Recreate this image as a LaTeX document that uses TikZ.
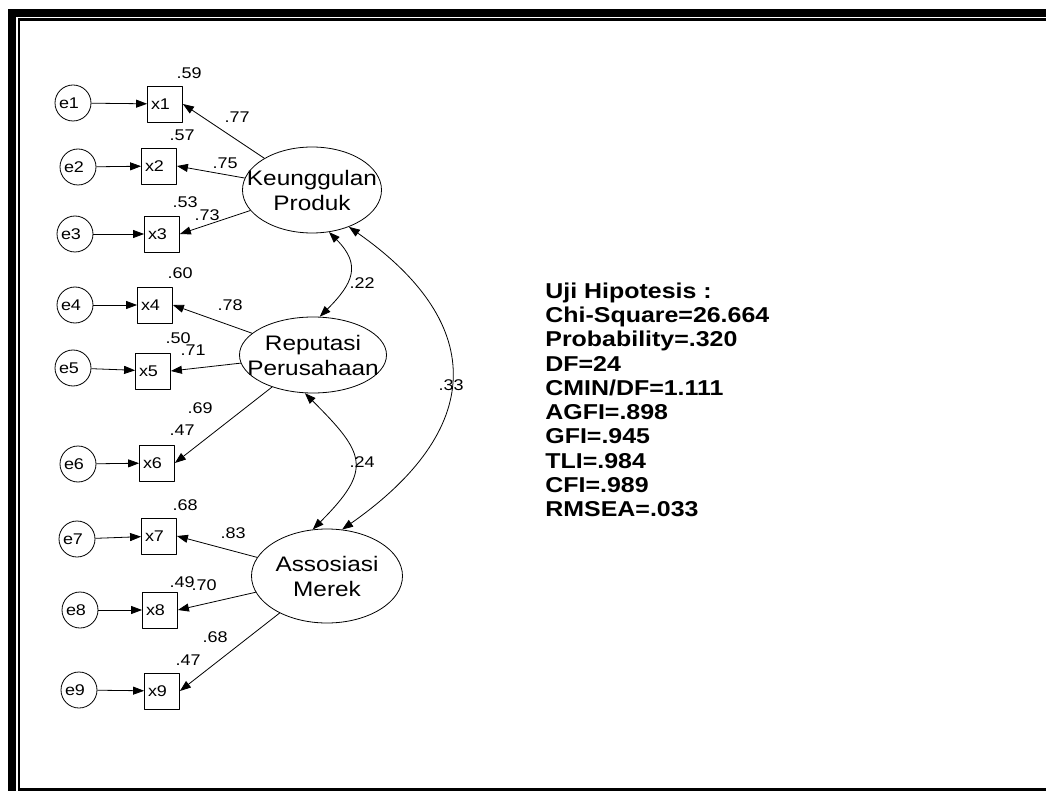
\documentclass[tikz,border=0pt]{standalone}
\usepackage{fontspec}
\setmainfont[FakeStretch=1.16]{Liberation Sans}
\usetikzlibrary{arrows.meta,shapes.geometric}

\begin{document}
\begin{tikzpicture}[x=1pt,y=1pt,>={Triangle[length=11pt,width=8pt]},line width=0.8pt,line join=round,
    lat/.style={draw,ellipse,inner sep=0pt,align=center,font=\fontsize{21}{25}\selectfont},
    obs/.style={draw,minimum width=35pt,minimum height=36pt,inner sep=0pt,text width=28pt,align=left,font=\fontsize{15.5}{17}\selectfont},
    err/.style={draw,circle,minimum size=36pt,inner sep=0pt,text width=28pt,align=left,font=\fontsize{15.5}{17}\selectfont},
    num/.style={inner sep=0pt,font=\fontsize{15.5}{17}\selectfont},
    gof/.style={anchor=base west,inner sep=0pt,font=\bfseries\fontsize{21.5}{24}\selectfont}]
    \useasboundingbox (0,0) rectangle (1046,-791);
    % frame
    \fill (8,-9) rectangle (1046,-17);
    \fill (8,-9) rectangle (15.5,-791);
    \fill (18,-18.5) rectangle (1046,-20.7);
    \fill (18,-18.5) rectangle (20.3,-790.7);
    \fill (18,-788.3) rectangle (1046,-790.7);
    % latent variables
    \node[lat,minimum width=139pt,minimum height=86pt] (KP) at (312,-190) {\makebox[0pt]{Keunggulan}\\\makebox[0pt]{Produk}};
    \node[lat,minimum width=147pt,minimum height=76pt] (RP) at (313,-355) {\makebox[0pt]{Reputasi}\\\makebox[0pt]{Perusahaan}};
    \node[lat,minimum width=151pt,minimum height=94pt] (AM) at (327,-576) {\makebox[0pt]{Assosiasi}\\\makebox[0pt]{Merek}};
    % indicators and errors
    \foreach \i/\ex/\ey/\ox/\oy in {1/73/103/165/104,2/78/167/159/166,3/75/234/162/234,
        4/75/305/155/305,5/73/368/153/371,6/78/464/157/463,
        7/77/539/159/536,8/80/610/160/610,9/79/690/162/691}{
        \node[err] (e\i) at (\ex,-\ey) {e\i};
        \node[obs] (x\i) at (\ox,-\oy) {x\i};
        \draw[->] (e\i) -- (x\i);
    }
    \foreach \f/\t in {KP/1,KP/2,KP/3,RP/4,RP/5,RP/6,AM/7,AM/8,AM/9}
        \draw[->] (\f) -- (x\t.east);
    % covariances
    \draw[<->] (KP.292) to[out=-45,in=45,looseness=1.4] (RP.80);
    \draw[<->] (RP.258) to[out=-45,in=45,looseness=1.6] (AM.107);
    \draw[<->] (KP.315) to[out=-35,in=35,looseness=1.45] (AM.72);
    % estimates
    \foreach \n/\x/\y/\v in {r1/189/73/.59,r2/182/135/.57,r3/185/202/.53,r4/180/273/.60,r5/178/338/.50,
        r6/182/430/.47,r7/185/505/.68,r8/182/582/.49,r9/188/660/.47,
        l1/237/117/.77,l2/225/163/.75,l3/207/215/.73,l4/230/305/.78,l5/193/350/.71,
        l6/200/408/.69,l7/233/533/.83,l8/204/585/.70,l9/215/637/.68,
        c1/362/283/.22,c2/362/462/.24,c3/451/385/.33}
        \node[num] (\n) at (\x,-\y) {\v};
    % fit indices
    \foreach \t [count=\i from 0] in {Uji Hipotesis :,Chi-Square=26.664,Probability=.320,DF=24,
        CMIN/DF=1.111,AGFI=.898,GFI=.945,TLI=.984,CFI=.989,RMSEA=.033}
        \node[gof] (g\i) at (545,{-298.3-24.25*\i}) {\t};
\end{tikzpicture}
\end{document}
